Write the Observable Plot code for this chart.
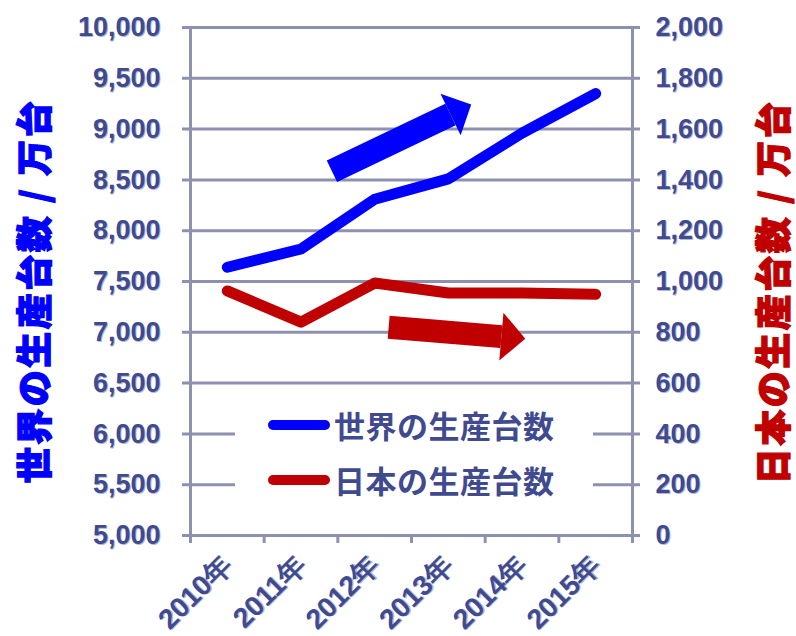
<!DOCTYPE html>
<html><head><meta charset="utf-8">
<script src="https://cdn.jsdelivr.net/npm/d3@7"></script>
<script src="https://cdn.jsdelivr.net/npm/@observablehq/plot@0.6"></script>
<style>
body{margin:0;background:#fff;}
#wrap{position:relative;width:796px;height:636px;overflow:hidden;font-family:"Liberation Sans",Arial,sans-serif;}
#wrap svg{position:absolute;left:0;top:0;}
#wrap svg g[aria-label$="tick label"] text{text-shadow:1px 1px 0 #b4b7d4;}
.title{position:absolute;white-space:nowrap;font-family:"Noto Sans CJK JP",sans-serif;font-weight:900;font-size:36px;letter-spacing:2.5px;line-height:1;transform:translate(-50%,-50%) rotate(-90deg);-webkit-text-stroke:1.3px currentColor;}
#legend{position:absolute;left:235px;top:396px;width:358px;height:106px;background:#fff;}
.item{position:absolute;left:0;height:40px;width:358px;}
.sw{position:absolute;left:33px;top:15px;width:62px;height:10px;border-radius:5px;}
.lab{position:absolute;left:99px;top:0;font-family:"Noto Sans CJK JP",sans-serif;font-weight:700;font-size:31px;letter-spacing:0.5px;line-height:40px;color:#3f4a8f;white-space:nowrap;}
</style></head>
<body>
<div id="wrap"></div>
<script>
// ---- data ----
const years = [2010, 2011, 2012, 2013, 2014, 2015];
const worldUnits = [7640, 7820, 8310, 8510, 8960, 9350];   // 万台 (left axis)
const japanUnits = [963, 840, 994, 955, 955, 950];          // 万台 (right axis)
const leftTicks = [5000, 5500, 6000, 6500, 7000, 7500, 8000, 8500, 9000, 9500, 10000];
const rightTicks = [0, 200, 400, 600, 800, 1000, 1200, 1400, 1600, 1800, 2000];
const yearBounds = [2009.5, 2010.5, 2011.5, 2012.5, 2013.5, 2014.5, 2015.5];
const seriesNames = ["世界の生産台数", "日本の生産台数"];
const colors = ["#0000ff", "#c00000"];
// trend arrows (data coordinates): world on left scale, japan on right scale
const worldArrow = {x1: 2011.42, y1: 8585, x2: 2013.03, y2: 9144, rotate: 64, r: 23, w: 24};
const japanArrow = {x1: 2012.19, y1: 820, x2: 2013.72, y2: 783, rotate: 95, r: 24, w: 23};

// right axis values mapped onto left scale
const toLeft = v => 5000 + v * 2.5;
const txt = "#3f4a8f";
const grid = "#8d91af";

const rows = years.map((y, i) => ({year: y, world: worldUnits[i], japan: japanUnits[i]}));

const headSymbol = {
  draw(ctx, size) {
    const r = Math.sqrt(size / Math.PI);
    ctx.moveTo(0, -r);
    ctx.lineTo(r, 0);
    ctx.lineTo(-r, 0);
    ctx.closePath();
  }
};

const arrows = [
  {...worldArrow, color: colors[0]},
  {...japanArrow, y1: toLeft(japanArrow.y1), y2: toLeft(japanArrow.y2), color: colors[1]}
];

const chart = Plot.plot({
  width: 796,
  height: 636,
  marginTop: 27,
  marginBottom: 101,
  marginLeft: 182,
  marginRight: 156,
  x: {domain: [2009.5, 2015.5], range: [190, 632]},
  y: {domain: [5000, 10000]},
  r: {type: "identity"},
  style: {fontFamily: "'Liberation Sans', Arial, sans-serif", background: "transparent"},
  marks: [
    Plot.ruleY(leftTicks, {stroke: grid, strokeWidth: 3}),
    Plot.ruleX([2009.5, 2015.5], {stroke: grid, strokeWidth: 3}),
    Plot.axisX({ticks: yearBounds, tickSize: 8, tickFormat: () => "", stroke: grid, strokeWidth: 3, strokeOpacity: 1, label: null}),
    Plot.axisX({ticks: years, tickSize: 0, tickPadding: 25, tickRotate: -45, tickFormat: d => `${d}年`,
      fontSize: 28, fontWeight: "bold", color: txt, label: null}),
    Plot.axisY({anchor: "left", ticks: leftTicks, tickSize: 0, tickPadding: 22, tickFormat: d3.format(","),
      fontSize: 27, fontWeight: "bold", color: txt, label: null}),
    Plot.axisY({anchor: "right", ticks: rightTicks.map(toLeft), tickSize: 0, tickPadding: 15,
      tickFormat: d => d3.format(",")((d - 5000) / 2.5), fontSize: 27, fontWeight: "bold", color: txt, label: null}),
    Plot.line(rows, {x: "year", y: "world", stroke: colors[0], strokeWidth: 11, strokeLinecap: "round", strokeLinejoin: "round"}),
    Plot.line(rows, {x: "year", y: d => toLeft(d.japan), stroke: colors[1], strokeWidth: 11, strokeLinecap: "round", strokeLinejoin: "round"}),
    Plot.link(arrows, {x1: "x1", y1: "y1", x2: "x2", y2: "y2", stroke: "color", strokeWidth: "w", strokeLinecap: "butt"}),
    Plot.dot(arrows, {x: "x2", y: "y2", r: "r", rotate: "rotate", symbol: headSymbol, fill: "color", stroke: "none"})
  ]
});
document.getElementById("wrap").appendChild(chart);

const wrap = document.getElementById("wrap");
const lt = document.createElement("div");
lt.className = "title"; lt.style.left = "32px"; lt.style.top = "291px"; lt.style.color = colors[0];
lt.textContent = "世界の生産台数 / 万台";
wrap.appendChild(lt);
const rt = document.createElement("div");
rt.className = "title"; rt.style.left = "771px"; rt.style.top = "292px"; rt.style.color = colors[1];
rt.textContent = "日本の生産台数 / 万台";
wrap.appendChild(rt);

const lg = document.createElement("div");
lg.id = "legend";
seriesNames.forEach((n, i) => {
  const it = document.createElement("div");
  it.className = "item"; it.style.top = (9 + i * 55) + "px";
  const sw = document.createElement("span"); sw.className = "sw"; sw.style.background = colors[i];
  const lb = document.createElement("span"); lb.className = "lab"; lb.textContent = n;
  it.appendChild(sw); it.appendChild(lb); lg.appendChild(it);
});
wrap.appendChild(lg);
</script>
</body></html>
